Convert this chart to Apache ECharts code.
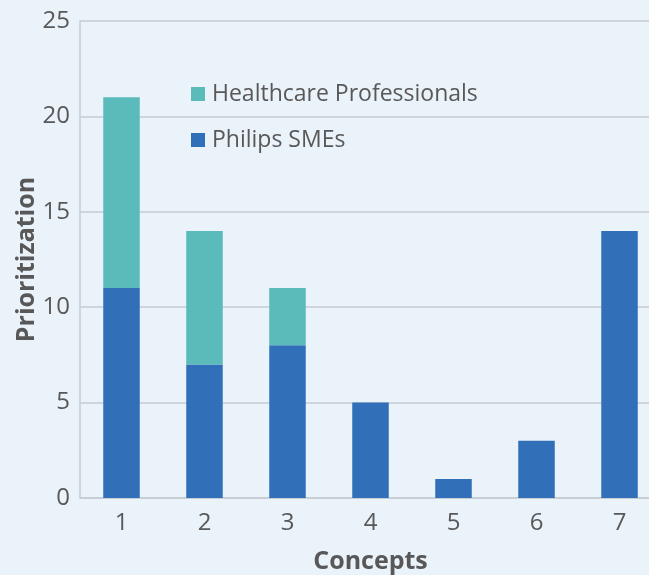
<!DOCTYPE html>
<html><head><meta charset="utf-8">
<script src="https://cdn.jsdelivr.net/npm/echarts@6/dist/echarts.min.js"></script>
<style>html,body{margin:0;padding:0;background:#eaf2fa;}#c{width:649px;height:575px;}</style>
</head><body><div id="c"></div>
<script>
const categories = ['1','2','3','4','5','6','7'];
const philipsSMEs = [11, 7, 8, 5, 1, 3, 14];
const healthcarePros = [10, 7, 3, 0, 0, 0, 0];
const yTicks = [0, 5, 10, 15, 20, 25];

const chart = echarts.init(document.getElementById('c'));
const font = '"Open Sans", "Noto Sans", sans-serif';
chart.setOption({
  backgroundColor: '#eaf2fa',
  textStyle: { fontFamily: font },
  animation: false,
  grid: { left: 80, right: -12, top: 21, bottom: 77, containLabel: false, outerBoundsMode: 'none' },
  legend: {
    orient: 'vertical', left: 186, top: 73, itemGap: 14,
    itemWidth: 14, itemHeight: 14, icon: 'rect',
    textStyle: { fontSize: 23, color: '#585858', fontFamily: font, padding: [0,0,0,2], lineHeight: 32 },
    data: ['Healthcare Professionals', 'Philips SMEs']
  },
  xAxis: {
    type: 'category', data: categories,
    name: 'Concepts', nameLocation: 'middle', nameGap: 51, nameMoveOverlap: false,
    nameTextStyle: { fontSize: 25, fontWeight: 'bold', color: '#585858', fontFamily: font },
    axisLine: { lineStyle: { color: '#c6cbd3', width: 1.5 } },
    axisTick: { show: false },
    axisLabel: { fontSize: 24, color: '#585858', margin: 13 }
  },
  yAxis: {
    type: 'value', min: yTicks[0], max: yTicks[yTicks.length-1], interval: 5,
    name: 'Prioritization', nameLocation: 'middle', nameGap: 41, nameMoveOverlap: false,
    nameTextStyle: { fontSize: 25, fontWeight: 'bold', color: '#585858', fontFamily: font },
    axisLine: { show: true, lineStyle: { color: '#c6cbd3', width: 1.5 } },
    axisTick: { show: false },
    axisLabel: { fontSize: 24, color: '#585858', margin: 10 },
    splitLine: { lineStyle: { color: '#c6cbd3', width: 1.5 } }
  },
  series: [
    { name: 'Philips SMEs', type: 'bar', stack: 's', data: philipsSMEs, barWidth: '44%', itemStyle: { color: '#3170b8' } },
    { name: 'Healthcare Professionals', type: 'bar', stack: 's', data: healthcarePros, barWidth: '44%', itemStyle: { color: '#5bbbbb' } }
  ]
});
</script></body></html>
